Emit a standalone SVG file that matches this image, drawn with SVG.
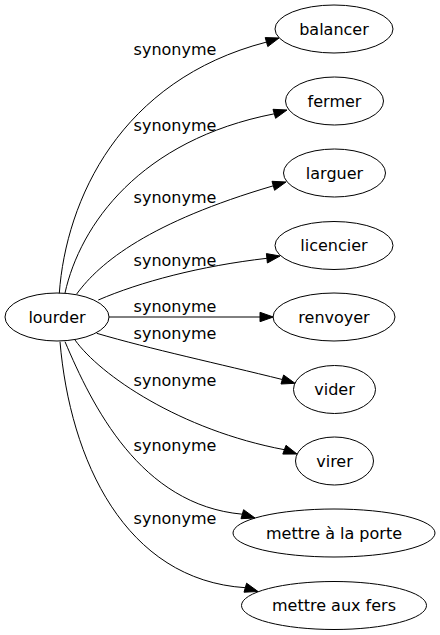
<svg xmlns="http://www.w3.org/2000/svg" width="440" height="635" viewBox="0 0 440 635">
<style>
  .node ellipse { fill: none; stroke: #000; stroke-width: 1; }
  .node text { font-family: "DejaVu Sans", Verdana, sans-serif; font-size: 16px; text-anchor: middle; fill: #000; }
  .edges path { fill: none; stroke: #000; stroke-width: 1; }
  .edges polygon { fill: #000; stroke: #000; stroke-width: 1; }
  .edges text { font-family: "DejaVu Sans", Verdana, sans-serif; font-size: 16px; text-anchor: middle; fill: #000; }
</style>
<rect x="0" y="0" width="440" height="635" fill="#fff"/>
<g class="edges">
  <path d="M59.3,293.3 C66,200 120,80 266.4,42.1"/>
  <polygon points="279,38 265.2,37.6 267.8,46.6"/>
  <text x="175" y="55">synonyme</text>

  <path d="M65,293 C80,225 140,140 274.3,113.8"/>
  <polygon points="287,110 273.0,109.3 275.6,118.3"/>
  <text x="175" y="131">synonyme</text>

  <path d="M76.7,294 C100,262 150,222 273.3,185.8"/>
  <polygon points="286,182 272.0,181.3 274.6,190.3"/>
  <text x="175" y="203">synonyme</text>

  <path d="M98.3,300 C140,282 200,266 266.9,258.3"/>
  <polygon points="280,256 266.4,253.6 267.4,263.0"/>
  <text x="175" y="266">synonyme</text>

  <path d="M109,317 L260,317"/>
  <polygon points="273.3,317 260,312.3 260,321.7"/>
  <text x="175" y="312">synonyme</text>

  <path d="M96.7,333.3 C150,349 220,364 282.3,379.5"/>
  <polygon points="295,383.3 283.6,375.0 281.0,384.0"/>
  <text x="175" y="339">synonyme</text>

  <path d="M75,340 C100,375 180,430 284.4,449.7"/>
  <polygon points="297,454 286.0,445.3 282.8,454.1"/>
  <text x="175" y="386">synonyme</text>

  <path d="M65,341.7 C92,405 140,505 242.3,514.2"/>
  <polygon points="255,518 243.6,509.7 241.0,518.7"/>
  <text x="175" y="451">synonyme</text>

  <path d="M60,341.7 C70,460 125,580 245.3,587.7"/>
  <polygon points="258,591.5 246.6,583.2 244.0,592.2"/>
  <text x="175" y="524">synonyme</text>
</g>
<g id="node-lourder" class="node"><ellipse cx="57" cy="317" rx="52" ry="24"/><text x="57" y="322.5">lourder</text></g>
<g id="node-balancer" class="node"><ellipse cx="334" cy="29" rx="59" ry="24"/><text x="334" y="34.5">balancer</text></g>
<g id="node-fermer" class="node"><ellipse cx="334.5" cy="101" rx="49" ry="24"/><text x="334.5" y="106.5">fermer</text></g>
<g id="node-larguer" class="node"><ellipse cx="334.5" cy="173" rx="51" ry="24"/><text x="334.5" y="178.5">larguer</text></g>
<g id="node-licencier" class="node"><ellipse cx="334" cy="245.5" rx="59" ry="24"/><text x="334" y="251">licencier</text></g>
<g id="node-renvoyer" class="node"><ellipse cx="334" cy="317" rx="61" ry="24"/><text x="334" y="322.5">renvoyer</text></g>
<g id="node-vider" class="node"><ellipse cx="334.5" cy="389.5" rx="41" ry="24"/><text x="334.5" y="395">vider</text></g>
<g id="node-virer" class="node"><ellipse cx="334.5" cy="461" rx="39" ry="24"/><text x="334.5" y="466.5">virer</text></g>
<g id="node-mettre-a-la-porte" class="node"><ellipse cx="334" cy="533" rx="101" ry="24"/><text x="334" y="538.5">mettre à la porte</text></g>
<g id="node-mettre-aux-fers" class="node"><ellipse cx="334" cy="605.5" rx="92.5" ry="24"/><text x="334" y="611">mettre aux fers</text></g>
</svg>
